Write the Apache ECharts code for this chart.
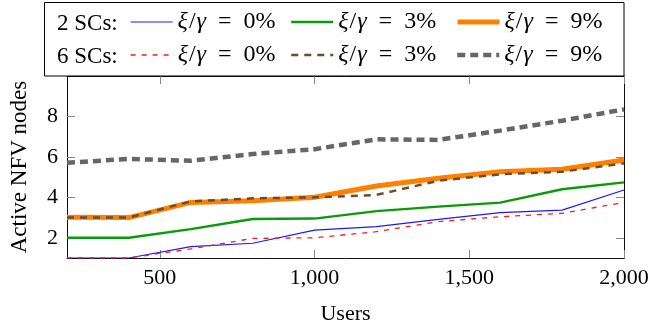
<!DOCTYPE html>
<html>
<head>
<meta charset="utf-8">
<script src="https://cdn.jsdelivr.net/npm/echarts@6/dist/echarts.min.js"></script>
<style>
html,body{margin:0;padding:0;background:#fff;}
#c{width:652px;height:330px;}
</style>
</head>
<body>
<div id="c"></div>
<script>
const users = [200, 400, 600, 800, 1000, 1200, 1400, 1600, 1800, 2000];
const sc2_0 = [1.0, 1.0, 1.56, 1.73, 2.38, 2.55, 2.91, 3.24, 3.37, 4.36];
const sc2_3 = [2.0, 2.0, 2.43, 2.93, 2.95, 3.32, 3.54, 3.74, 4.40, 4.74];
const sc2_9 = [3.01, 3.0, 3.75, 3.83, 4.0, 4.56, 4.94, 5.27, 5.39, 5.85];
const sc6_0 = [1.0, 1.0, 1.45, 1.97, 2.0, 2.3, 2.8, 3.04, 3.21, 3.75];
const sc6_3 = [3.0, 3.0, 3.8, 3.95, 4.0, 4.12, 4.82, 5.14, 5.27, 5.68];
const sc6_9 = [5.71, 5.9, 5.81, 6.14, 6.38, 6.87, 6.84, 7.30, 7.79, 8.35];
const xTicks = [500, 1000, 1500, 2000];
const yTicks = [2, 4, 6, 8];
const rowLabels = ['2 SCs:', '6 SCs:'];
const pctLabels = ['0%', '3%', '9%'];

const FONT = '"Liberation Serif", "Times New Roman", serif';
const seriesDefs = [
  {name: 'a0', data: sc2_0, color: '#1a1aff', width: 1.2, type: 'solid', pct: 0, row: 0},
  {name: 'a3', data: sc2_3, color: '#0a9a0a', width: 2.4, type: 'solid', pct: 1, row: 0},
  {name: 'a9', data: sc2_9, color: '#ff8000', width: 5, type: 'solid', pct: 2, row: 0},
  {name: 'b0', data: sc6_0, color: '#ff1a1a', width: 1.3, type: [5, 6], pct: 0, row: 1},
  {name: 'b3', data: sc6_3, color: '#6e4c2a', width: 2.5, type: [7, 6], pct: 1, row: 1},
  {name: 'b9', data: sc6_9, color: '#666666', width: 4.5, type: [8, 5], pct: 2, row: 1}
];

const legendX = [130, 290, 455];
const legendY = [24, 57];

const series = seriesDefs.map(d => ({
  name: d.name,
  type: 'line',
  showSymbol: false,
  symbol: 'none',
  data: users.map((u, i) => [u, d.data[i]]),
  lineStyle: {color: d.color, width: d.width, type: d.type},
  itemStyle: {color: d.color},
  animation: false,
  silent: true
}));

const legends = seriesDefs.map(d => ({
  data: [d.name],
  left: legendX[d.pct],
  top: legendY[d.row] - 14,
  padding: 0,
  itemWidth: 42,
  itemHeight: 28,
  selectedMode: false,
  lineStyle: {color: d.color, width: d.width, type: d.type, opacity: 1},
  itemStyle: {color: 'rgba(0,0,0,0)', borderWidth: 0, opacity: 0},
  formatter: () => '{i|ξ}{sl|/}{i|γ}{s|=}{n|' + pctLabels[d.pct] + '}',
  textStyle: {
    fontFamily: FONT, fontSize: 24, color: '#000',
    rich: {
      i: {fontFamily: FONT, fontSize: 24, fontStyle: 'italic', color: '#000'},
      sl: {fontFamily: FONT, fontSize: 24, color: '#000', padding: [0, 1, 0, 1]},
      s: {fontFamily: FONT, fontSize: 24, color: '#000', padding: [0, 12, 0, 12]},
      n: {fontFamily: FONT, fontSize: 24, color: '#000'}
    }
  }
}));

const axisCommon = {
  axisLine: {show: true, onZero: false, lineStyle: {color: '#111', width: 1}},
  splitLine: {show: false}
};

const option = {
  animation: false,
  backgroundColor: '#fff',
  grid: {left: 63, right: 28, top: 76, bottom: 72, containLabel: false},
  xAxis: [
    Object.assign({}, axisCommon, {
      type: 'value', min: 200, max: 2000, position: 'bottom',
      axisTick: {show: true, inside: true, length: 8, customValues: xTicks, lineStyle: {color: '#888'}},
      axisLabel: {customValues: xTicks, fontFamily: FONT, fontSize: 22, color: '#000', margin: 9,
        formatter: v => v.toLocaleString('en-US')},
      name: 'Users', nameLocation: 'middle', nameGap: 45,
      nameTextStyle: {fontFamily: FONT, fontSize: 22, color: '#000'}
    }),
    Object.assign({}, axisCommon, {
      type: 'value', min: 200, max: 2000, position: 'top',
      axisTick: {show: true, inside: true, length: 8, customValues: xTicks, lineStyle: {color: '#888'}},
      axisLabel: {show: false}
    })
  ],
  yAxis: [
    Object.assign({}, axisCommon, {
      type: 'value', min: 1, max: 10, position: 'left',
      axisTick: {show: true, inside: true, length: 8, customValues: yTicks, lineStyle: {color: '#888'}},
      axisLabel: {customValues: yTicks, fontFamily: FONT, fontSize: 22, color: '#000', margin: 9},
      name: 'Active NFV nodes', nameLocation: 'middle', nameGap: 36,
      nameTextStyle: {fontFamily: FONT, fontSize: 23, color: '#000'}
    }),
    Object.assign({}, axisCommon, {
      type: 'value', min: 1, max: 10, position: 'right',
      axisTick: {show: true, inside: true, length: 8, customValues: yTicks, lineStyle: {color: '#888'}},
      axisLabel: {show: false}
    })
  ],
  legend: legends,
  graphic: [
    {type: 'rect', z: 3, shape: {x: 44.5, y: 2.5, width: 579.5, height: 73.5},
     style: {fill: '#fff', stroke: '#000', lineWidth: 1}},
    {type: 'text', z: 4, x: 57, y: legendY[0], style: {text: rowLabels[0], fontFamily: FONT, fontSize: 23, fill: '#000', verticalAlign: 'middle'}},
    {type: 'text', z: 4, x: 57, y: legendY[1], style: {text: rowLabels[1], fontFamily: FONT, fontSize: 23, fill: '#000', verticalAlign: 'middle'}}
  ],
  series: series
};

const chart = echarts.init(document.getElementById('c'), null, {renderer: 'canvas'});
chart.setOption(option);
</script>
</body>
</html>
